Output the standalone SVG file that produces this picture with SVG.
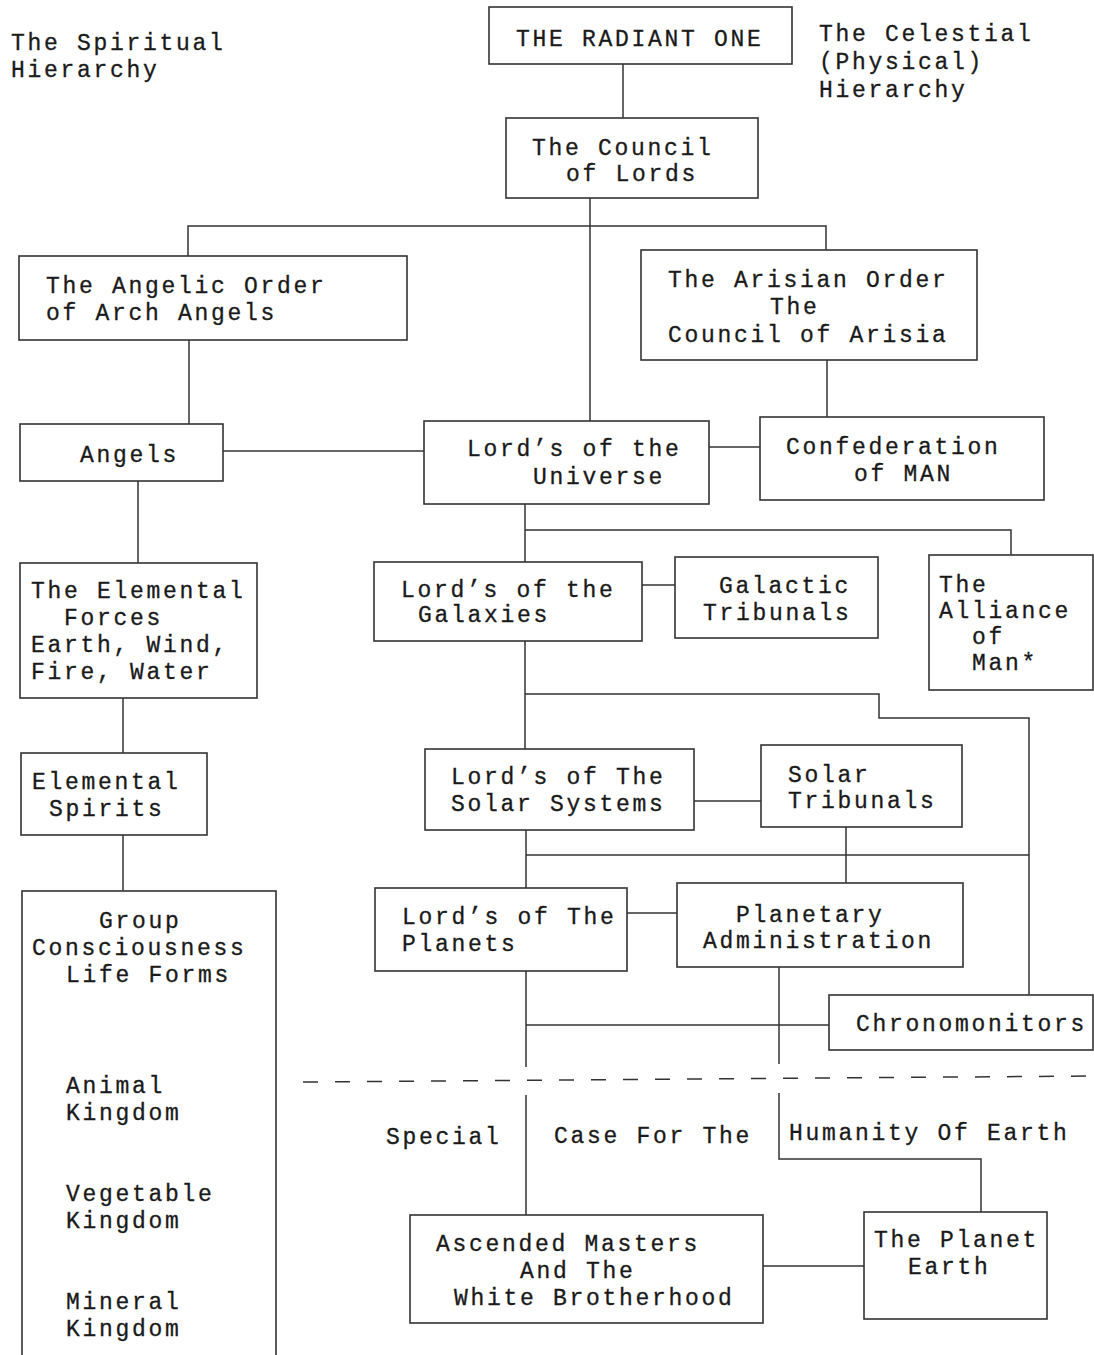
<svg xmlns="http://www.w3.org/2000/svg" width="1094" height="1355" viewBox="0 0 1094 1355">
<style>
.b{fill:#fff;stroke:#333;stroke-width:1.6}
.c{fill:none;stroke:#333;stroke-width:1.5}
.t{font-family:"Liberation Mono","Courier New",monospace;font-size:23px;letter-spacing:2.7px;fill:#1a1a1a;stroke:#1a1a1a;stroke-width:0.3}
</style>
<rect width="1094" height="1355" fill="#fff"/>
<g id="connectors">
<path class="c" d="M623 64V118"/>
<path class="c" d="M590 198V421"/>
<path class="c" d="M188 256V226H826V250"/>
<path class="c" d="M189 340V424"/>
<path class="c" d="M223 451H424"/>
<path class="c" d="M709 447H760"/>
<path class="c" d="M827 360V417"/>
<path class="c" d="M138 481V563"/>
<path class="c" d="M123 698V753"/>
<path class="c" d="M123 835V891"/>
<path class="c" d="M525 504V562"/>
<path class="c" d="M525 530H1011V555"/>
<path class="c" d="M642 585H675"/>
<path class="c" d="M525 641V749"/>
<path class="c" d="M525 694H879V718H1029V995"/>
<path class="c" d="M694 801H761"/>
<path class="c" d="M526 830V888"/>
<path class="c" d="M526 855H1029"/>
<path class="c" d="M846 827V883"/>
<path class="c" d="M627 913H677"/>
<path class="c" d="M526 971V1067"/>
<path class="c" d="M526 1025H829"/>
<path class="c" d="M779 967V1064"/>
<path class="c" d="M303 1082L1090 1076" stroke-dasharray="15 17" stroke-width="2"/>
<path class="c" d="M526 1095V1215"/>
<path class="c" d="M779 1093V1159H981V1212"/>
<path class="c" d="M763 1266H864"/>
</g>
<g id="label-spiritual">
<text class="t" x="11" y="50">The Spiritual</text>
<text class="t" x="11" y="77">Hierarchy</text>
</g>
<g id="label-celestial">
<text class="t" x="819" y="41">The Celestial</text>
<text class="t" x="819" y="69">(Physical)</text>
<text class="t" x="819" y="97">Hierarchy</text>
</g>
<g id="radiant-one">
<rect class="b" x="489" y="7" width="303" height="57"/>
<text class="t" x="516" y="46">THE RADIANT ONE</text>
</g>
<g id="council-of-lords">
<rect class="b" x="506" y="118" width="252" height="80"/>
<text class="t" x="532" y="155">The Council</text>
<text class="t" x="566" y="181">of Lords</text>
</g>
<g id="angelic-order">
<rect class="b" x="19" y="256" width="388" height="84"/>
<text class="t" x="46" y="293">The Angelic Order</text>
<text class="t" x="46" y="320">of Arch Angels</text>
</g>
<g id="arisian-order">
<rect class="b" x="641" y="250" width="336" height="110"/>
<text class="t" x="668" y="287">The Arisian Order</text>
<text class="t" x="770" y="314">The</text>
<text class="t" x="668" y="342">Council of Arisia</text>
</g>
<g id="angels">
<rect class="b" x="20" y="424" width="203" height="57"/>
<text class="t" x="80" y="462">Angels</text>
</g>
<g id="lords-universe">
<rect class="b" x="424" y="421" width="285" height="83"/>
<text class="t" x="467" y="456">Lord’s of the</text>
<text class="t" x="533" y="484">Universe</text>
</g>
<g id="confederation">
<rect class="b" x="760" y="417" width="284" height="83"/>
<text class="t" x="786" y="454">Confederation</text>
<text class="t" x="854" y="481">of MAN</text>
</g>
<g id="elemental-forces">
<rect class="b" x="20" y="563" width="237" height="135"/>
<text class="t" x="31" y="598">The Elemental</text>
<text class="t" x="64" y="625">Forces</text>
<text class="t" x="31" y="652">Earth, Wind,</text>
<text class="t" x="31" y="679">Fire, Water</text>
</g>
<g id="lords-galaxies">
<rect class="b" x="374" y="562" width="268" height="79"/>
<text class="t" x="401" y="597">Lord’s of the</text>
<text class="t" x="418" y="622">Galaxies</text>
</g>
<g id="galactic-tribunals">
<rect class="b" x="675" y="557" width="203" height="81"/>
<text class="t" x="719" y="593">Galactic</text>
<text class="t" x="703" y="620">Tribunals</text>
</g>
<g id="alliance-of-man">
<rect class="b" x="929" y="555" width="164" height="135"/>
<text class="t" x="939" y="592">The</text>
<text class="t" x="939" y="618">Alliance</text>
<text class="t" x="972" y="644">of</text>
<text class="t" x="972" y="670">Man*</text>
</g>
<g id="elemental-spirits">
<rect class="b" x="21" y="753" width="186" height="82"/>
<text class="t" x="32" y="789">Elemental</text>
<text class="t" x="49" y="816">Spirits</text>
</g>
<g id="lords-solar">
<rect class="b" x="425" y="749" width="269" height="81"/>
<text class="t" x="451" y="784">Lord’s of The</text>
<text class="t" x="451" y="811">Solar Systems</text>
</g>
<g id="solar-tribunals">
<rect class="b" x="761" y="745" width="201" height="82"/>
<text class="t" x="788" y="782">Solar</text>
<text class="t" x="788" y="808">Tribunals</text>
</g>
<g id="group-consciousness">
<rect class="b" x="22" y="891" width="254" height="480"/>
<text class="t" x="99" y="928">Group</text>
<text class="t" x="32" y="955">Consciousness</text>
<text class="t" x="66" y="982">Life Forms</text>
<text class="t" x="66" y="1093">Animal</text>
<text class="t" x="66" y="1120">Kingdom</text>
<text class="t" x="66" y="1201">Vegetable</text>
<text class="t" x="66" y="1228">Kingdom</text>
<text class="t" x="66" y="1309">Mineral</text>
<text class="t" x="66" y="1336">Kingdom</text>
</g>
<g id="lords-planets">
<rect class="b" x="375" y="888" width="252" height="83"/>
<text class="t" x="402" y="924">Lord’s of The</text>
<text class="t" x="402" y="951">Planets</text>
</g>
<g id="planetary-admin">
<rect class="b" x="677" y="883" width="286" height="84"/>
<text class="t" x="736" y="922">Planetary</text>
<text class="t" x="703" y="948">Administration</text>
</g>
<g id="chronomonitors">
<rect class="b" x="829" y="995" width="264" height="55"/>
<text class="t" x="856" y="1031">Chronomonitors</text>
</g>
<g id="special-case">
<text class="t" x="386" y="1144">Special</text>
<text class="t" x="554" y="1143">Case For The</text>
<text class="t" x="789" y="1140">Humanity Of Earth</text>
</g>
<g id="ascended-masters">
<rect class="b" x="410" y="1215" width="353" height="108"/>
<text class="t" x="436" y="1251">Ascended Masters</text>
<text class="t" x="520" y="1278">And The</text>
<text class="t" x="454" y="1305">White Brotherhood</text>
</g>
<g id="planet-earth">
<rect class="b" x="864" y="1212" width="183" height="107"/>
<text class="t" x="874" y="1247">The Planet</text>
<text class="t" x="908" y="1274">Earth</text>
</g>
</svg>
